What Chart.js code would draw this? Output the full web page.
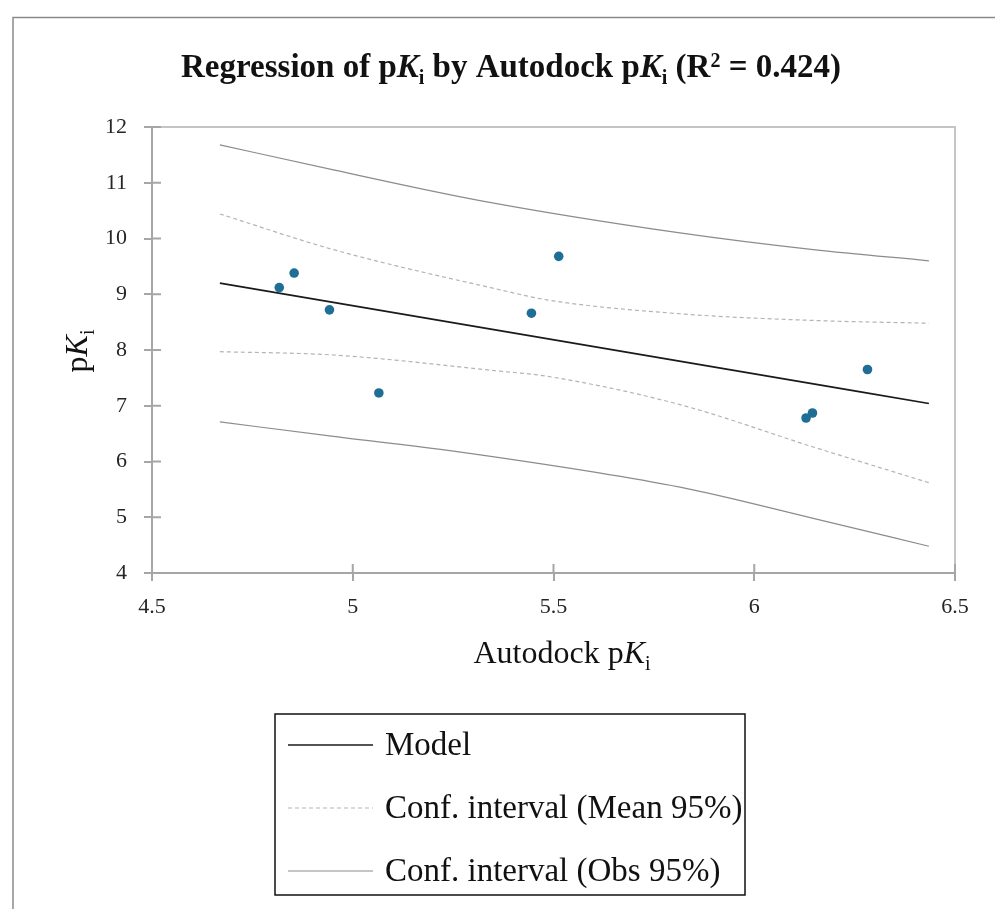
<!DOCTYPE html>
<html>
<head>
<meta charset="utf-8">
<title>Regression of pKi by Autodock pKi</title>
<script src="https://cdn.jsdelivr.net/npm/chart.js@4/dist/chart.umd.min.js"></script>
<style>
  html, body { margin: 0; padding: 0; background: #fff; }
  #wrap { width: 995px; height: 909px; }
</style>
</head>
<body>
<div id="wrap"><canvas id="chart" width="995" height="909"></canvas></div>
<script>
// observations
const autodockPKi = [4.817, 4.854, 4.942, 5.065, 5.445, 5.513, 6.129, 6.145, 6.282];
const measuredPKi = [9.12, 9.38, 8.72, 7.23, 8.66, 9.68, 6.78, 6.87, 7.65];

// regression line
const modelX = [4.669, 6.435];
const modelY = [9.20, 7.04];

// 95% interval of the mean
const meanX = [4.669, 4.952, 5.367, 5.483, 5.815, 6.147, 6.435];
const meanUpper = [10.44, 9.80, 9.08, 8.90, 8.65, 8.53, 8.48];
const meanLower = [7.97, 7.91, 7.62, 7.53, 7.02, 6.26, 5.62];

// 95% interval of observations
const obsX = [4.669, 4.952, 5.317, 5.815, 6.147, 6.435];
const obsUpper = [11.68, 11.23, 10.68, 10.10, 9.80, 9.60];
const obsLower = [6.71, 6.45, 6.12, 5.54, 4.98, 4.48];

const legendLabels = ['Model', 'Conf. interval (Mean 95%)', 'Conf. interval (Obs 95%)'];

const titleParts = [
  { t: 'Regression of p', bold: true },
  { t: 'K', bold: true, it: true },
  { t: 'i', bold: true, sub: true },
  { t: ' by Autodock p', bold: true },
  { t: 'K', bold: true, it: true },
  { t: 'i', bold: true, sub: true },
  { t: ' (R', bold: true },
  { t: '2', bold: true, sup: true },
  { t: ' = 0.424)', bold: true }
];
const xTitleParts = [{ t: 'Autodock p' }, { t: 'K', it: true }, { t: 'i', sub: true }];
const yTitleParts = [{ t: 'p' }, { t: 'K', it: true }, { t: 'i', sub: true }];

const FONT = '"Liberation Serif", "Times New Roman", serif';
const AXIS_GRAY = '#a6a6a6';

const pairs = (xs, ys) => xs.map((x, i) => ({ x: x, y: ys[i] }));

function drawRich(ctx, parts, x, y, size, align) {
  const fontOf = p => (p.it ? 'italic ' : '') + (p.bold ? 'bold ' : '') +
    Math.round(size * (p.sub || p.sup ? 0.62 : 1)) + 'px ' + FONT;
  let total = 0;
  parts.forEach(p => {
    ctx.font = fontOf(p);
    p.w = ctx.measureText(p.t).width;
    total += p.w;
  });
  let cx = align === 'center' ? x - total / 2 : x;
  ctx.textAlign = 'left';
  ctx.textBaseline = 'alphabetic';
  parts.forEach(p => {
    ctx.font = fontOf(p);
    const dy = p.sub ? size * 0.22 : (p.sup ? -size * 0.3 : 0);
    ctx.fillText(p.t, cx, y + dy);
    cx += p.w;
  });
}

const decorations = {
  id: 'decorations',
  beforeDraw(chart) {
    const ctx = chart.ctx;
    ctx.save();
    ctx.fillStyle = '#fff';
    ctx.fillRect(0, 0, chart.width, chart.height);
    // outer frame (left and top only)
    ctx.strokeStyle = '#8a8a8a';
    ctx.lineWidth = 1.5;
    ctx.beginPath();
    ctx.moveTo(13, chart.height);
    ctx.lineTo(13, 17.5);
    ctx.lineTo(chart.width, 17.5);
    ctx.stroke();
    ctx.restore();
  },
  afterDraw(chart) {
    const ctx = chart.ctx;
    const a = chart.chartArea;
    const xs = chart.scales.x, ys = chart.scales.y;
    ctx.save();

    // plot box top and right
    ctx.strokeStyle = '#c4c4c4';
    ctx.lineWidth = 2;
    ctx.beginPath();
    ctx.moveTo(a.left, a.top);
    ctx.lineTo(a.right, a.top);
    ctx.lineTo(a.right, a.bottom);
    ctx.stroke();

    // inner halves of the tick marks
    ctx.strokeStyle = AXIS_GRAY;
    ctx.lineWidth = 2;
    ctx.beginPath();
    ys.ticks.forEach(t => {
      const py = ys.getPixelForValue(t.value);
      ctx.moveTo(a.left, py);
      ctx.lineTo(a.left + 9, py);
    });
    xs.ticks.forEach(t => {
      const px = xs.getPixelForValue(t.value);
      ctx.moveTo(px, a.bottom);
      ctx.lineTo(px, a.bottom - 9);
    });
    ctx.stroke();

    ctx.fillStyle = '#111';
    // title
    drawRich(ctx, titleParts, 511, 77, 33, 'center');
    // x axis title
    drawRich(ctx, xTitleParts, 562, 663, 32, 'center');
    // y axis title
    ctx.save();
    ctx.translate(87, 351);
    ctx.rotate(-Math.PI / 2);
    drawRich(ctx, yTitleParts, 0, 0, 32, 'center');
    ctx.restore();

    // legend
    const box = { left: 275, top: 714, right: 745, bottom: 895 };
    ctx.strokeStyle = '#111';
    ctx.lineWidth = 1.5;
    ctx.strokeRect(box.left, box.top, box.right - box.left, box.bottom - box.top);
    const lineSets = chart.data.datasets.filter(d => d.showLine && d.label);
    const rowY = [745, 808, 871];
    lineSets.forEach((d, i) => {
      const y = rowY[i];
      ctx.strokeStyle = d.borderColor;
      ctx.lineWidth = d.borderWidth;
      ctx.setLineDash(d.borderDash || []);
      ctx.beginPath();
      ctx.moveTo(288, y);
      ctx.lineTo(373, y);
      ctx.stroke();
      ctx.setLineDash([]);
      ctx.fillStyle = '#111';
      ctx.font = '33px ' + FONT;
      ctx.textAlign = 'left';
      ctx.textBaseline = 'alphabetic';
      ctx.fillText(d.label, 385, y + 10);
    });
    ctx.restore();
  }
};

const curveStyle = {
  showLine: true,
  pointRadius: 0,
  pointHoverRadius: 0,
  fill: false,
  cubicInterpolationMode: 'monotone'
};

const tickText = v => String(Math.round(v * 10) / 10);

new Chart(document.getElementById('chart').getContext('2d'), {
  type: 'scatter',
  data: {
    datasets: [
      {
        label: 'Observations',
        data: pairs(autodockPKi, measuredPKi),
        pointRadius: 4.8,
        pointBackgroundColor: '#1f6e96',
        pointBorderWidth: 0,
        showLine: false
      },
      Object.assign({}, curveStyle, {
        label: legendLabels[0],
        data: pairs(modelX, modelY),
        borderColor: '#1a1a1a',
        borderWidth: 1.6
      }),
      Object.assign({}, curveStyle, {
        label: legendLabels[1],
        data: pairs(meanX, meanUpper),
        borderColor: '#b4b4b4',
        borderWidth: 1.2,
        borderDash: [4, 3]
      }),
      Object.assign({}, curveStyle, {
        label: legendLabels[2],
        data: pairs(obsX, obsUpper),
        borderColor: '#8c8c8c',
        borderWidth: 1.2
      }),
      Object.assign({}, curveStyle, {
        label: '',
        data: pairs(meanX, meanLower),
        borderColor: '#b4b4b4',
        borderWidth: 1.2,
        borderDash: [4, 3]
      }),
      Object.assign({}, curveStyle, {
        label: '',
        data: pairs(obsX, obsLower),
        borderColor: '#8c8c8c',
        borderWidth: 1.2
      })
    ]
  },
  options: {
    responsive: false,
    devicePixelRatio: 1,
    animation: false,
    layout: { padding: { left: 100, top: 127, right: 40, bottom: 276 } },
    plugins: {
      legend: { display: false },
      title: { display: false },
      tooltip: { enabled: false }
    },
    scales: {
      x: {
        type: 'linear',
        min: 4.5,
        max: 6.5,
        afterFit: s => { s.height = 60; },
        ticks: {
          stepSize: 0.5,
          padding: 13,
          color: '#262626',
          font: { family: FONT, size: 22 },
          callback: tickText
        },
        grid: { drawOnChartArea: false, drawTicks: true, tickLength: 8, color: AXIS_GRAY, lineWidth: 2 },
        border: { display: true, color: AXIS_GRAY, width: 2 }
      },
      y: {
        type: 'linear',
        min: 4,
        max: 12,
        afterFit: s => { s.width = 52; },
        ticks: {
          stepSize: 1,
          padding: 17,
          color: '#262626',
          font: { family: FONT, size: 22 },
          callback: tickText
        },
        grid: { drawOnChartArea: false, drawTicks: true, tickLength: 8, color: AXIS_GRAY, lineWidth: 2 },
        border: { display: true, color: AXIS_GRAY, width: 2 }
      }
    }
  },
  plugins: [decorations]
});
</script>
</body>
</html>
